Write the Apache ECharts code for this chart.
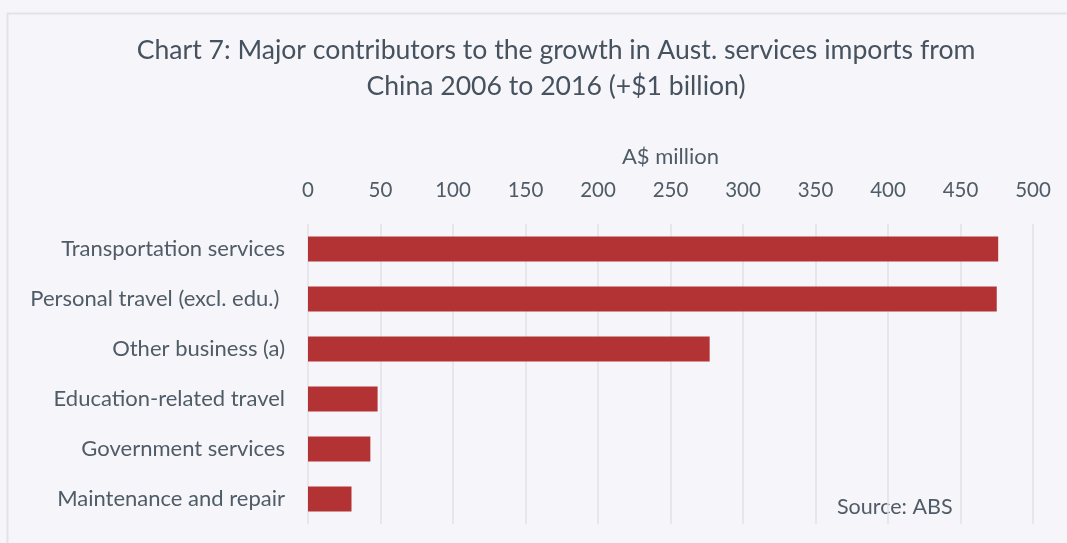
<!DOCTYPE html>
<html>
<head>
<meta charset="utf-8">
<script src="https://cdn.jsdelivr.net/npm/echarts@6/dist/echarts.min.js"></script>
<style>
  html, body { margin: 0; padding: 0; background: #f6f6fa; }
  #chart { width: 1067px; height: 543px; }
</style>
</head>
<body>
<div id="chart"></div>
<script>
// Growth in services imports from China, 2006–2016, by service type (A$ million)
const categories = [
  'Transportation services',
  'Personal travel (excl. edu.) ',
  'Other business (a)',
  'Education-related travel',
  'Government services',
  'Maintenance and repair'
];
const growthValues = [476, 475, 277, 48, 43, 30];
const xTicks = { min: 0, max: 500, interval: 50 };

const FONT = 'Lato, "Open Sans", sans-serif';
const TEXT = '#4f5b66';

const chart = echarts.init(document.getElementById('chart'), null, { renderer: 'canvas' });

chart.setOption({
  backgroundColor: '#f6f6fa',
  animation: false,
  title: {
    text: 'Chart 7: Major contributors to the growth in Aust. services imports from\nChina 2006 to 2016 (+$1 billion)',
    left: 551,
    top: 27,
    textAlign: 'center',
    textStyle: {
      fontFamily: FONT,
      fontSize: 26.6,
      fontWeight: 'normal',
      color: '#46525e',
      lineHeight: 36
    }
  },
  graphic: [
    {
      type: 'rect',
      shape: { x: 7.5, y: 13.5, width: 1100, height: 600 },
      style: { fill: 'none', stroke: '#e1e3e8', lineWidth: 2 },
      silent: true
    },
    {
      type: 'text',
      left: 837,
      top: 496,
      style: { text: 'Source: ABS', fontFamily: FONT, fontSize: 21.5, fill: TEXT }
    }
  ],
  grid: { left: 308, right: 34, top: 224, bottom: 19, containLabel: false },
  xAxis: {
    type: 'value',
    position: 'top',
    min: xTicks.min,
    max: xTicks.max,
    interval: xTicks.interval,
    name: 'A$ million',
    nameLocation: 'middle',
    nameGap: 56,
    nameTextStyle: { fontFamily: FONT, fontSize: 22, color: TEXT },
    axisLine: { show: false },
    axisTick: { show: false },
    axisLabel: { fontFamily: FONT, fontSize: 20.5, color: TEXT, margin: 23 },
    splitLine: { show: true, lineStyle: { color: '#e0e1e7', width: 1.5 } }
  },
  yAxis: {
    type: 'category',
    inverse: true,
    data: categories,
    axisLine: { show: false },
    axisTick: { show: false },
    axisLabel: { fontFamily: FONT, fontSize: 22, color: TEXT, margin: 23 }
  },
  series: [{
    type: 'bar',
    data: growthValues,
    barCategoryGap: '50%',
    itemStyle: { color: '#b33234' }
  }]
});
</script>
</body>
</html>
